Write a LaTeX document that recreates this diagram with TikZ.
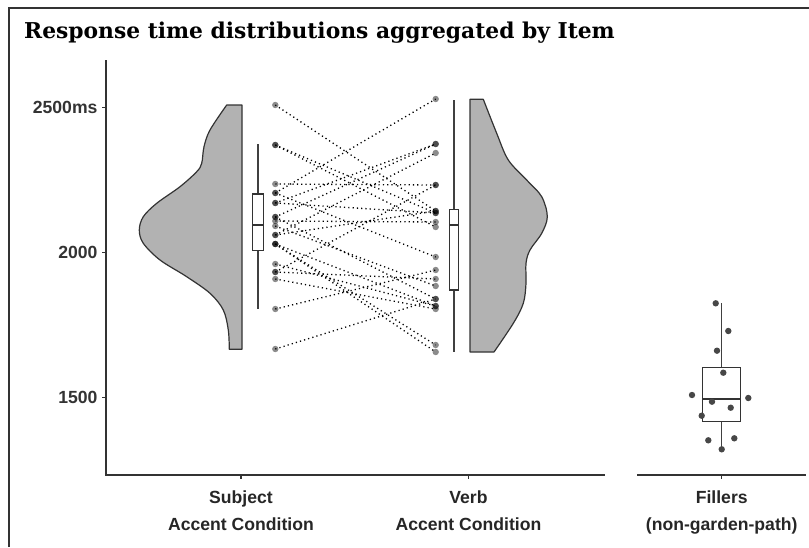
\documentclass[tikz,border=0pt]{standalone}
\usepackage{fontspec}
\setmainfont{Liberation Sans}
\newfontfamily\titlefont{DejaVu Serif}
\usetikzlibrary{positioning}

\newcommand{\labfont}{\fontsize{17.6}{27}\selectfont\bfseries}

\begin{document}
\begin{tikzpicture}[x=1pt, y=-1pt,
    violin/.style={draw=black!80, fill=black!30, line width=1.2pt, line join=round},
    boxp/.style={draw=black!80, fill=white, line width=1.2pt},
    whisk/.style={draw=black!75, line width=1.2pt},
    median/.style={draw=black!80, line width=2pt},
    axisline/.style={draw=black!80, line width=1.1pt},
    pairline/.style={draw=black, line width=1.3pt, dash pattern=on 1.2pt off 3.1pt},
    itemdot/.style={fill=black, opacity=0.45},
    filldot/.style={fill=black!72},
    ticklab/.style={font=\labfont, text=black!80, anchor=east, inner sep=0pt},
    catlab/.style={font=\labfont, text=black!85, align=center, anchor=north, inner sep=0pt}]
  \useasboundingbox (0,0) rectangle (809,547);

  % outer frame
  \draw[black!80, line width=1.2pt] (9,547) -- (9,8) -- (809,8);

  % title
  \node[anchor=west, inner sep=0pt, font=\titlefont\bfseries\fontsize{21.8}{26}\selectfont] (title) at (24,33) {Response time distributions aggregated by Item};

  % axes
  \draw[axisline] (106,60) -- (106,475) -- (605,475);
  \draw[axisline] (637,475) -- (806,475);
  \foreach \yv/\lab in {107.7/2500ms, 252.7/2000, 397.7/1500}
    \draw[axisline] (102,\yv) -- (106,\yv) node[ticklab, at start, xshift=-4pt] {\lab};
  \foreach \xv in {241, 468.5, 721.7}
    \draw[axisline] (\xv,475) -- (\xv,479);
  \node[catlab] (subj) at (241,491) {Subject\\Accent Condition};
  \node[catlab] (verb) at (468.5,491) {Verb\\Accent Condition};
  \node[catlab] (fill) at (721.7,491) {Fillers\\(non-garden-path)};

  % subject half violin
  \draw[violin] plot[smooth, tension=0.55] coordinates {(226.7,105) (210,130) (204,146.7)
      (201.7,163.3) (196.7,171.7) (180,186.7) (156.7,203.3) (143.3,216.7) (139.3,230)
      (143.3,243.3) (160,260) (186.7,276.7) (210,293.3) (223.3,310) (228.3,330) (229.3,349.3)}
    -- (242,349.3) -- (242,105) -- cycle;
  \draw[whisk] (258,144) -- (258,309.3);
  \draw[boxp] (252.7,194) rectangle (263.3,250.3);
  \draw[median] (252.7,225) -- (263.3,225);

  % verb half violin
  \draw[violin] plot[smooth, tension=0.55] coordinates {(483.3,99.3) (496.7,133.3) (508.3,160)
      (526.7,180) (541.7,196.7) (547.3,216.7) (541.7,233.3) (530,250) (526,263.3)
      (526,283.3) (523.3,303.3) (513.3,323.3) (494,352)}
    -- (470,352) -- (470,99.3) -- cycle;
  \draw[whisk] (454,100) -- (454,352);
  \draw[boxp] (449.3,209.3) rectangle (458.7,290);
  \draw[median] (449.3,224.7) -- (458.7,224.7);

  % items: subject -> verb
  \foreach \s/\v in {105/211, 145/213, 145/227, 184/185, 193/99, 193/257, 203/213,
      203/144, 217/144, 217/299, 221/222, 226/286, 235/153, 235/211, 244/345, 244/352,
      244/306, 264/306, 272/279, 272/185, 279/309, 309/270, 349/299}
    \draw[pairline] (275.3,\s) -- (435.7,\v);
  \foreach \s/\v in {105/211, 145/213, 145/227, 184/185, 193/99, 193/257, 203/213,
      203/144, 217/144, 217/299, 221/222, 226/286, 235/153, 235/211, 244/345, 244/352,
      244/306, 264/306, 272/279, 272/185, 279/309, 309/270, 349/299}
    {\fill[itemdot] (275.3,\s) circle (3.2);
     \fill[itemdot] (435.7,\v) circle (3.2);}

  % fillers box plot
  \draw[whisk] (721.7,303.3) -- (721.7,449.3);
  \draw[boxp] (702.3,367.3) rectangle (740.7,421.3);
  \draw[median] (702.3,399.3) -- (740.7,399.3);
  \foreach \fx/\fy in {715.7/303.3, 728.3/331, 717/350.7, 723.3/372.7, 692/395,
      748.3/398, 712/401.7, 730.7/407.7, 701.7/415.7, 708.3/440.3, 734.3/438.3, 721.7/449.3}
    \fill[filldot] (\fx,\fy) circle (3.2);
\end{tikzpicture}
\end{document}
